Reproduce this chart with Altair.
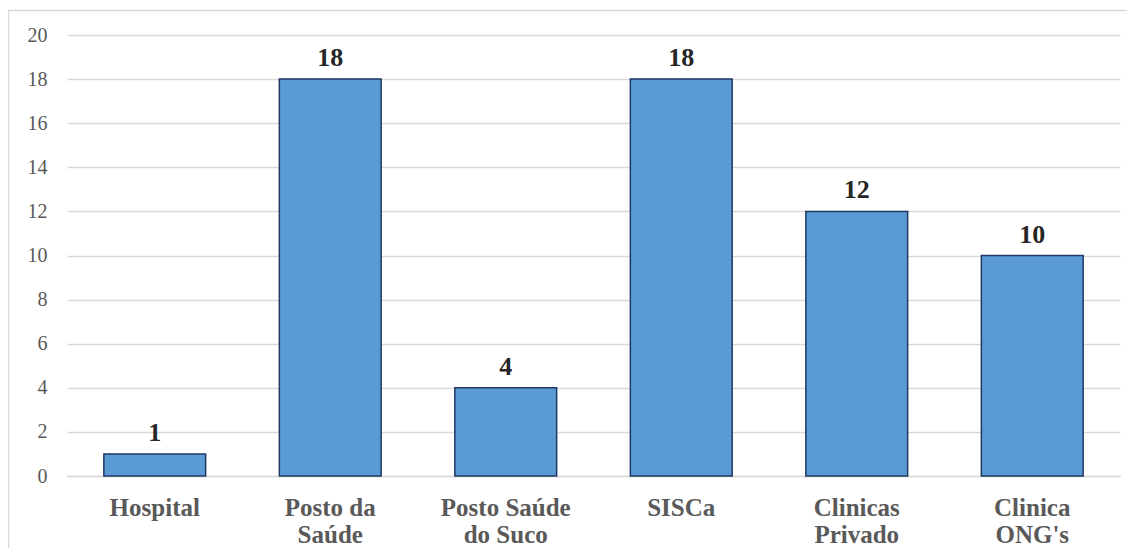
import altair as alt
import pandas as pd

categories = ["Hospital", "Posto da|Saúde", "Posto Saúde|do Suco", "SISCa", "Clinicas|Privado", "Clinica|ONG's"]
values = [1, 18, 4, 18, 12, 10]
y_ticks = list(range(0, 21, 2))

df = pd.DataFrame({"cat": categories, "val": values})

W, H = 1053, 441
FONT = "Liberation Serif"

x_enc = alt.X(
    "cat:N",
    sort=categories,
    scale=alt.Scale(paddingInner=0.42, paddingOuter=0.21),
    axis=alt.Axis(
        title=None,
        labelAngle=0,
        labelExpr="split(datum.label, '|')",
        labelFontSize=25,
        labelFontWeight="bold",
        labelColor="#595959",
        labelLineHeight=27,
        labelPadding=19,
        labelBaseline="top",
        ticks=False,
        domain=True,
        domainColor="#d9d9d9",
        domainWidth=1.5,
        grid=False,
    ),
)

y_enc = alt.Y(
    "val:Q",
    scale=alt.Scale(domain=[0, 20], nice=False),
    axis=alt.Axis(
        title=None,
        values=y_ticks,
        labelFontSize=20,
        labelColor="#595959",
        labelPadding=20,
        ticks=False,
        domain=False,
        grid=True,
        gridColor="#d9d9d9",
        gridWidth=1.5,
    ),
)

bars = alt.Chart(df).mark_bar(
    color="#5b9bd5", stroke="#1f3864", strokeWidth=1.5
).encode(x=x_enc, y=y_enc)

labels = alt.Chart(df).mark_text(
    dy=-8, baseline="bottom", fontSize=26, fontWeight="bold", color="#262626"
).encode(x=alt.X("cat:N", sort=categories), y="val:Q", text="val:Q")

border = alt.Chart(pd.DataFrame({"a": [0]})).mark_rect(
    fill="transparent", stroke="#d9d9d9", strokeWidth=1.5
).encode(
    x=alt.value(-58.5), x2=alt.value(W + 200), y=alt.value(-24.5), y2=alt.value(H + 300)
)

chart = alt.layer(border, bars, labels).properties(
    width=W,
    height=H,
    padding={"left": 59, "top": 27, "right": 7, "bottom": 72},
    autosize=alt.AutoSizeParams(type="none"),
).configure(font=FONT).configure_view(stroke=None).configure_axis(
    labelFont=FONT
).configure_text(font=FONT)

chart.save("out.html", embed_options={"renderer": "svg", "actions": False})
